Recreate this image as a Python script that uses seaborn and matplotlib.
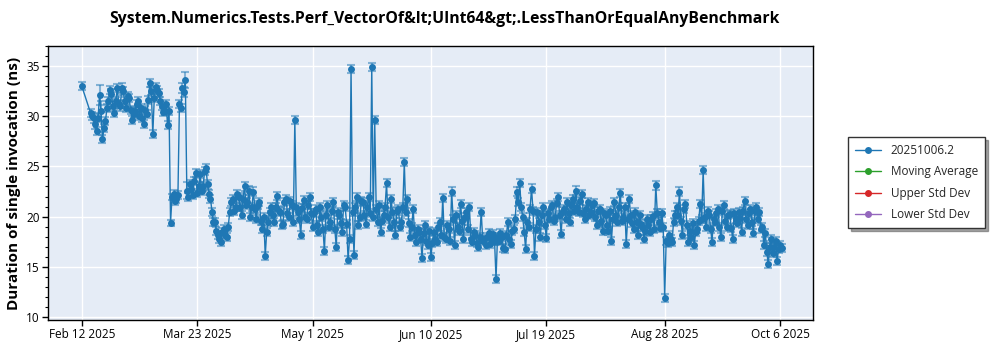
import numpy as np
import pandas as pd
import matplotlib
matplotlib.use("Agg")
import matplotlib.pyplot as plt
from matplotlib.ticker import MultipleLocator
import seaborn as sns

# ---------------- data ----------------
first_date = "2025-02-12"
first_value = 33.0
first_err = 0.4

# first run of each day
feb_vals = [30.3, 29.8, 28.5, 32.1, 27.7, 29.5, 31.5, 32.2, 30.3, 32.8, 31.0, 32.5, 30.8, 31.8]  # Feb 15-28
mar_vals = [29.6, 30.5, 31.5, 30.8, 29.2, 30.2, 33.3, 28.2, 32.9, 32.3, 31.0, 30.5, 29.1, 19.4, 22.3,
            21.8, 31.2, 32.8, 33.6, 22.0, 22.8, 23.5, 22.4, 24.2, 23.0, 24.8, 22.3, 20.5, 19.5, 18.2, 17.5]
apr_vals = [18.8, 18.0, 20.5, 21.8, 21.0, 22.0, 20.2, 23.0, 21.5, 20.0, 22.5, 19.8, 21.5, 18.8, 16.1,
            19.5, 21.0, 19.5, 22.1, 20.5, 19.3, 21.8, 20.0, 21.2, 29.6, 20.5, 18.2, 21.7, 19.8, 22.0]
may_vals = [19.0, 20.8, 18.5, 20.0, 16.6, 21.2, 19.5, 21.5, 17.0, 20.2, 18.5, 21.0, 15.7, 34.7, 16.2,
            22.0, 20.0, 21.5, 19.3, 22.0, 34.9, 29.6, 19.5, 18.5, 20.2, 23.3, 19.0, 20.5, 18.2, 20.8, 19.5]
jun_vals = [25.4, 21.8, 18.0, 20.8, 17.5, 18.5, 15.9, 19.2, 17.2, 16.0, 18.5, 17.5, 19.5, 21.9, 17.8,
            18.8, 22.5, 17.2, 19.0, 21.3, 17.8, 20.5, 21.0, 17.5, 18.2, 17.0, 20.5, 17.8, 18.0, 17.3]
jul_vals = [18.3, 13.8, 17.6, 18.0, 16.8, 19.5, 17.3, 18.8, 22.5, 23.3, 20.0, 16.8, 19.0, 22.8, 16.1,
            20.5, 18.0, 21.0, 17.9, 19.8, 21.2, 20.0, 22.0, 18.3, 20.8, 21.5, 19.5, 21.8, 22.6, 20.5, 22.3]
aug_vals = [19.8, 21.5, 20.5, 21.4, 19.2, 20.8, 18.6, 20.2, 18.6, 17.6, 21.5, 19.5, 22.4, 20.0, 17.3,
            21.8, 19.4, 20.5, 18.2, 19.3, 17.8, 19.8, 18.5, 20.1, 23.1, 19.5, 20.4, 11.9, 17.4, 17.8, 19.5]
sep_vals = [21.0, 22.5, 18.2, 21.3, 17.5, 18.0, 17.2, 18.8, 21.3, 24.6, 19.0, 20.2, 17.5, 19.5, 20.8,
            18.0, 21.2, 19.0, 20.3, 17.8, 19.8, 20.5, 18.5, 21.6, 19.2, 20.8, 18.4, 21.0, 20.5, 19.0]
oct_vals = [18.4, 15.3, 17.8, 17.0, 15.6, 17.2]

# second run of each day
feb_vals2 = [30.0, 29.2, 29.8, 30.5, 28.8, 30.8, 32.6, 31.0, 31.5, 31.2, 32.8, 31.5, 32.0, 30.6]
mar_vals2 = [30.2, 31.2, 30.0, 29.8, 30.6, 31.6, 32.5, 31.8, 32.6, 31.5, 30.4, 31.2, 30.5, 22.0, 21.6,
             22.2, 30.8, 32.4, 22.6, 23.2, 22.2, 24.3, 23.0, 22.6, 24.5, 23.2, 21.8, 19.5, 18.6, 17.8, 18.5]
apr_vals2 = [18.2, 19.0, 21.5, 20.6, 22.3, 21.0, 21.8, 21.2, 22.6, 21.0, 20.8, 21.2, 19.6, 20.0, 18.5,
             20.5, 20.2, 21.0, 20.6, 19.2, 21.5, 20.4, 21.6, 19.5, 21.0, 19.8, 20.9, 20.0, 21.2, 20.4]
may_vals2 = [20.4, 19.2, 21.0, 18.8, 20.2, 19.0, 20.6, 18.8, 20.5, 19.4, 21.2, 19.3, 17.8, 20.5, 21.0,
             19.2, 21.6, 20.2, 21.0, 20.4, 20.0, 20.8, 21.2, 19.6, 21.0, 20.0, 21.8, 19.5, 20.6, 19.0, 21.0]
jun_vals2 = [20.5, 19.4, 19.0, 18.2, 18.8, 17.8, 18.4, 17.6, 18.6, 17.4, 17.8, 19.0, 18.2, 18.0, 19.2,
             17.6, 19.8, 20.2, 18.6, 19.6, 20.0, 18.8, 17.8, 18.5, 17.4, 18.0, 17.6, 17.2, 18.4, 17.8]
jul_vals2 = [17.6, 18.0, 18.4, 16.9, 18.2, 17.8, 18.6, 19.8, 21.5, 21.0, 18.5, 19.5, 20.8, 20.6, 18.8,
             19.5, 20.2, 19.2, 20.4, 21.0, 19.6, 21.4, 20.2, 20.6, 19.8, 20.4, 21.2, 20.6, 21.0, 21.6, 20.4]
aug_vals2 = [20.8, 20.2, 21.2, 20.0, 20.6, 19.6, 20.4, 19.2, 20.6, 19.8, 20.2, 21.0, 19.6, 21.0, 19.8,
             20.2, 18.8, 19.5, 20.2, 19.0, 18.6, 19.2, 19.8, 18.8, 20.4, 18.9, 19.0, 17.6, 18.2, 17.5, 20.2]
sep_vals2 = [20.2, 19.6, 20.8, 19.2, 18.6, 19.4, 18.5, 19.6, 19.8, 20.0, 20.6, 18.8, 19.8, 20.4, 19.0,
             20.6, 19.6, 20.2, 18.9, 20.4, 19.4, 19.9, 20.6, 19.8, 20.4, 19.5, 20.6, 19.8, 18.8, 17.2]
oct_vals2 = [16.5, 17.0, 16.4, 17.6, 16.8, 16.9]

feb_errs = [0.4, 0.5, 0.4, 1.0, 0.4, 0.4, 0.4, 0.5, 0.4, 0.4, 0.5, 0.4, 0.4, 0.4]
mar_errs = [0.4, 0.4, 0.4, 0.4, 0.4, 0.4, 0.4, 0.4, 0.4, 0.4, 0.4, 0.4, 0.4, 0.3, 0.4,
            0.4, 0.4, 0.5, 0.8, 0.4, 0.4, 0.4, 0.4, 0.4, 0.4, 0.4, 0.4, 0.4, 0.4, 0.4, 0.4]
apr_errs = [0.4] * 30
may_errs = [0.4] * 31
jun_errs = [0.4] * 30
jul_errs = [0.4] * 31
aug_errs = [0.4] * 31
sep_errs = [0.4] * 30
oct_errs = [0.4] * 6

title = "System.Numerics.Tests.Perf_VectorOf&lt;UInt64&gt;.LessThanOrEqualAnyBenchmark"
ylabel = "Duration of single invocation (ns)"
series_labels = ["20251006.2", "Moving Average", "Upper Std Dev", "Lower Std Dev"]
series_colors = ["#1f77b4", "#2ca02c", "#d62728", "#9467bd"]
x_ticks = ["2025-02-12", "2025-03-23", "2025-05-01", "2025-06-10", "2025-07-19", "2025-08-28", "2025-10-06"]

# ---------------- assemble ----------------
months = [("2025-02-15", feb_vals, feb_vals2, feb_errs), ("2025-03-01", mar_vals, mar_vals2, mar_errs),
          ("2025-04-01", apr_vals, apr_vals2, apr_errs), ("2025-05-01", may_vals, may_vals2, may_errs),
          ("2025-06-01", jun_vals, jun_vals2, jun_errs), ("2025-07-01", jul_vals, jul_vals2, jul_errs),
          ("2025-08-01", aug_vals, aug_vals2, aug_errs), ("2025-09-01", sep_vals, sep_vals2, sep_errs),
          ("2025-10-01", oct_vals, oct_vals2, oct_errs)]
dates = [pd.Timestamp(first_date)]
vals = [first_value]
errs = [first_err]
for start, v1, v2, e in months:
    days = pd.date_range(start, periods=len(v1), freq="D")
    for d, a, b, er in zip(days, v1, v2, e):
        dates += [d, d + pd.Timedelta(hours=12)]
        vals += [a, b]
        errs += [er, er]
df = pd.DataFrame({"date": dates, "value": vals, "err": errs})

# ---------------- plot ----------------
sns.set_theme(style="darkgrid")
plt.rcParams["font.family"] = ["Open Sans", "DejaVu Sans"]

fig = plt.figure(figsize=(10, 3.5), dpi=100)
ax = fig.add_axes([0.048, 0.0857, 0.765, 0.783])
ax.set_facecolor("#E5ECF6")

ax.errorbar(df["date"], df["value"], yerr=df["err"], fmt="none",
            ecolor=(0.12, 0.47, 0.71, 0.5), elinewidth=1.5, capsize=3, capthick=1.5, zorder=2)
sns.lineplot(data=df, x="date", y="value", ax=ax, color=series_colors[0], linewidth=1.0,
             marker="o", markersize=5, markeredgewidth=0, label=series_labels[0], zorder=3,
             estimator=None, sort=False)
for lab, col in zip(series_labels[1:], series_colors[1:]):
    ax.plot([], [], color=col, marker="o", markersize=4, linewidth=1.0, label=lab)

ax.set_ylim(9.7, 37)
ax.set_xlim(pd.Timestamp("2025-01-31 14:00"), pd.Timestamp("2025-10-17 03:00"))
ax.yaxis.set_major_locator(MultipleLocator(5))
ax.yaxis.set_minor_locator(MultipleLocator(1))
tick_dates = [pd.Timestamp(t) for t in x_ticks]
ax.set_xticks(tick_dates)
ax.set_xticklabels([d.strftime("%b ") + str(d.day) + d.strftime(" %Y") for d in tick_dates])

ax.grid(True, which="major", color="white", linewidth=1.0)
ax.grid(False, which="minor")
for s in ax.spines.values():
    s.set_visible(True)
    s.set_color("black")
    s.set_linewidth(1.0)
ax.tick_params(axis="both", which="major", direction="out", length=4, width=1, color="black",
               labelsize=8.5, labelcolor="black", pad=2, left=True, bottom=True)
ax.tick_params(axis="y", which="minor", direction="out", length=2.5, width=0.8, color="black", left=True)

ax.set_xlabel("")
ax.set_ylabel(ylabel, fontsize=11, fontweight="bold", color="black")
ax.yaxis.set_label_coords(-0.035, 0.5)
fig.text(0.444, 0.945, title, ha="center", va="center", fontsize=11.3, fontweight="bold", color="black")

leg = ax.legend(loc="upper left", bbox_to_anchor=(1.0385, 0.69), frameon=True, fancybox=False,
                shadow=True, fontsize=8.5, handlelength=2.2, borderpad=0.6, labelspacing=0.72)
leg.get_frame().set_edgecolor("#333333")
leg.get_frame().set_facecolor("white")
leg.get_frame().set_linewidth(1.0)

fig.savefig("out.png", dpi=100)
